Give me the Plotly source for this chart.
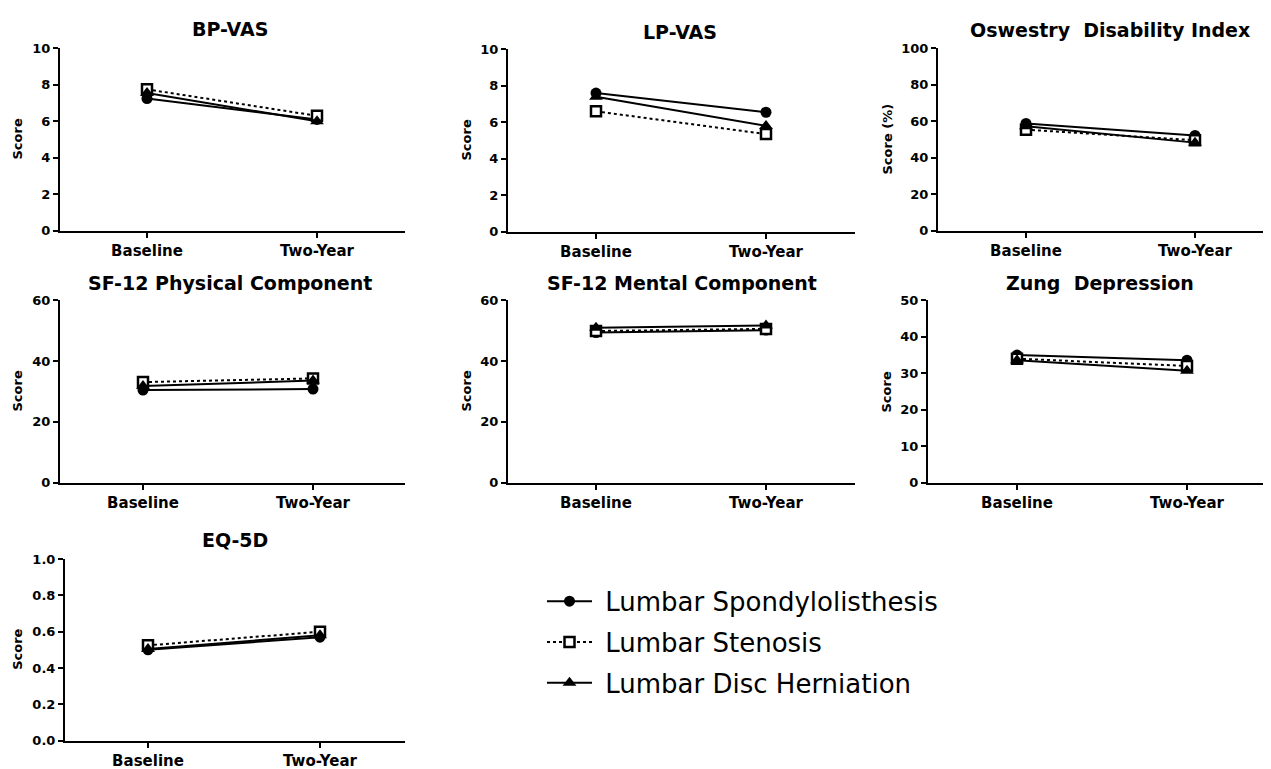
import plotly.graph_objects as go

W, H = 1271, 769
OFF = 8  # page body margin of the exported html

# ---------------- data ----------------
timepoints = ["Baseline", "Two-Year"]
panel_titles = ["BP-VAS", "LP-VAS", "Oswestry  Disability Index",
                "SF-12 Physical Component", "SF-12 Mental Component",
                "Zung  Depression", "EQ-5D"]
y_titles = ["Score", "Score", "Score (%)", "Score", "Score", "Score", "Score"]
y_max = [10, 10, 100, 60, 60, 50, 1.0]
y_dtick = [2, 2, 20, 20, 20, 10, 0.2]
series_names = ["Lumbar Spondylolisthesis", "Lumbar Stenosis", "Lumbar Disc Herniation"]
# [baseline, two-year] per panel, in panel order
spondylolisthesis = [[7.25, 6.1], [7.6, 6.55], [58.8, 52.2], [30.5, 30.8],
                     [49.4, 50.2], [35.0, 33.6], [0.50, 0.57]]
stenosis = [[7.75, 6.3], [6.6, 5.35], [55.4, 49.6], [33.1, 34.3],
            [49.9, 50.6], [34.0, 32.0], [0.525, 0.60]]
herniation = [[7.55, 6.0], [7.4, 5.8], [57.3, 48.3], [31.8, 33.6],
              [51.0, 51.7], [33.6, 30.7], [0.505, 0.58]]

# ---------------- layout geometry (screen pixels) ----------------
# left, right, top, bottom, baseline-x, two-year-x
geo = [
    (60, 405, 42, 228, 147, 317),
    (508, 855, 43, 229, 596, 766),
    (938, 1268, 42, 228, 1026, 1195),
    (60, 405, 299, 485, 143, 313),
    (508, 855, 299, 485, 596, 766),
    (928, 1268, 299, 485, 1017, 1187),
    (65, 405, 563, 748, 148, 320),
]
title_pos = [(230, 22), (680, 25), (1110, 23), (230, 281), (682, 281), (1100, 281), (235, 543)]
ytitle_x = [18, 467, 888, 18, 467, 887, 18]


def px(x):
    return (x - OFF) / W


def py(y):
    return 1 - (y - OFF) / H


bold = dict(family="DejaVu Sans", weight="bold", color="black")

styles = [
    dict(marker=dict(symbol="circle", size=11, color="black"),
         line=dict(color="black", width=2, dash="solid")),
    dict(marker=dict(symbol="square", size=10, color="white",
                     line=dict(color="black", width=2.5)),
         line=dict(color="black", width=2, dash="dot")),
    dict(marker=dict(symbol="triangle-up", size=12, color="black"),
         line=dict(color="black", width=2, dash="solid")),
]
all_series = [spondylolisthesis, stenosis, herniation]

fig = go.Figure()
annotations = []
layout_axes = {}

for i, (L, R, T, B, c0, c1) in enumerate(geo):
    n = i + 1
    xa = "x" if n == 1 else f"x{n}"
    ya = "y" if n == 1 else f"y{n}"
    unit = c1 - c0
    xr = [-(c0 - L) / unit, 1 + (R - c1) / unit]
    for s, (name, vals) in enumerate(zip(series_names, all_series)):
        fig.add_trace(go.Scatter(
            x=timepoints, y=vals[i], mode="lines+markers",
            name="\u00a0" + name,
            legendgroup=name, showlegend=(i == 0),
            xaxis=xa, yaxis=ya,
            marker=styles[s]["marker"], line=styles[s]["line"],
        ))
    layout_axes[f"xaxis{'' if n == 1 else n}"] = dict(
        domain=[px(L), px(R)], anchor=ya, type="category",
        categoryorder="array", categoryarray=timepoints,
        range=xr, showline=True, linecolor="black", linewidth=2,
        ticks="outside", ticklen=5, tickwidth=2, tickcolor="black",
        showgrid=False, zeroline=False, fixedrange=True,
        tickfont=dict(size=15, **bold),
    )
    layout_axes[f"yaxis{'' if n == 1 else n}"] = dict(
        domain=[py(B), py(T)], anchor=xa,
        range=[0, y_max[i]], dtick=y_dtick[i], tick0=0,
        tickformat=".1f" if y_max[i] == 1.0 else "d",
        showline=True, linecolor="black", linewidth=2,
        ticks="outside", ticklen=5, tickwidth=2, tickcolor="black",
        showgrid=False, zeroline=False, fixedrange=True,
        tickfont=dict(size=13, **bold),
    )
    tx, ty = title_pos[i]
    annotations.append(dict(
        text=panel_titles[i], x=px(tx), y=py(ty), xref="paper", yref="paper",
        xanchor="center", yanchor="middle", showarrow=False,
        font=dict(size=19, **bold),
    ))
    annotations.append(dict(
        text=y_titles[i], x=px(ytitle_x[i]), y=py((T + B) / 2),
        xref="paper", yref="paper", xanchor="center", yanchor="middle",
        textangle=-90, showarrow=False, font=dict(size=13, **bold),
    ))

fig.update_layout(
    width=W, height=H,
    margin=dict(l=0, r=0, t=0, b=0),
    paper_bgcolor="white", plot_bgcolor="white",
    showlegend=True,
    legend=dict(
        x=px(542), y=py(582), xanchor="left", yanchor="top",
        font=dict(family="DejaVu Sans", size=26, color="black"),
        itemwidth=45, tracegroupgap=4, bgcolor="rgba(0,0,0,0)",
    ),
    annotations=annotations,
    **layout_axes,
)

fig.write_html("out.html")
